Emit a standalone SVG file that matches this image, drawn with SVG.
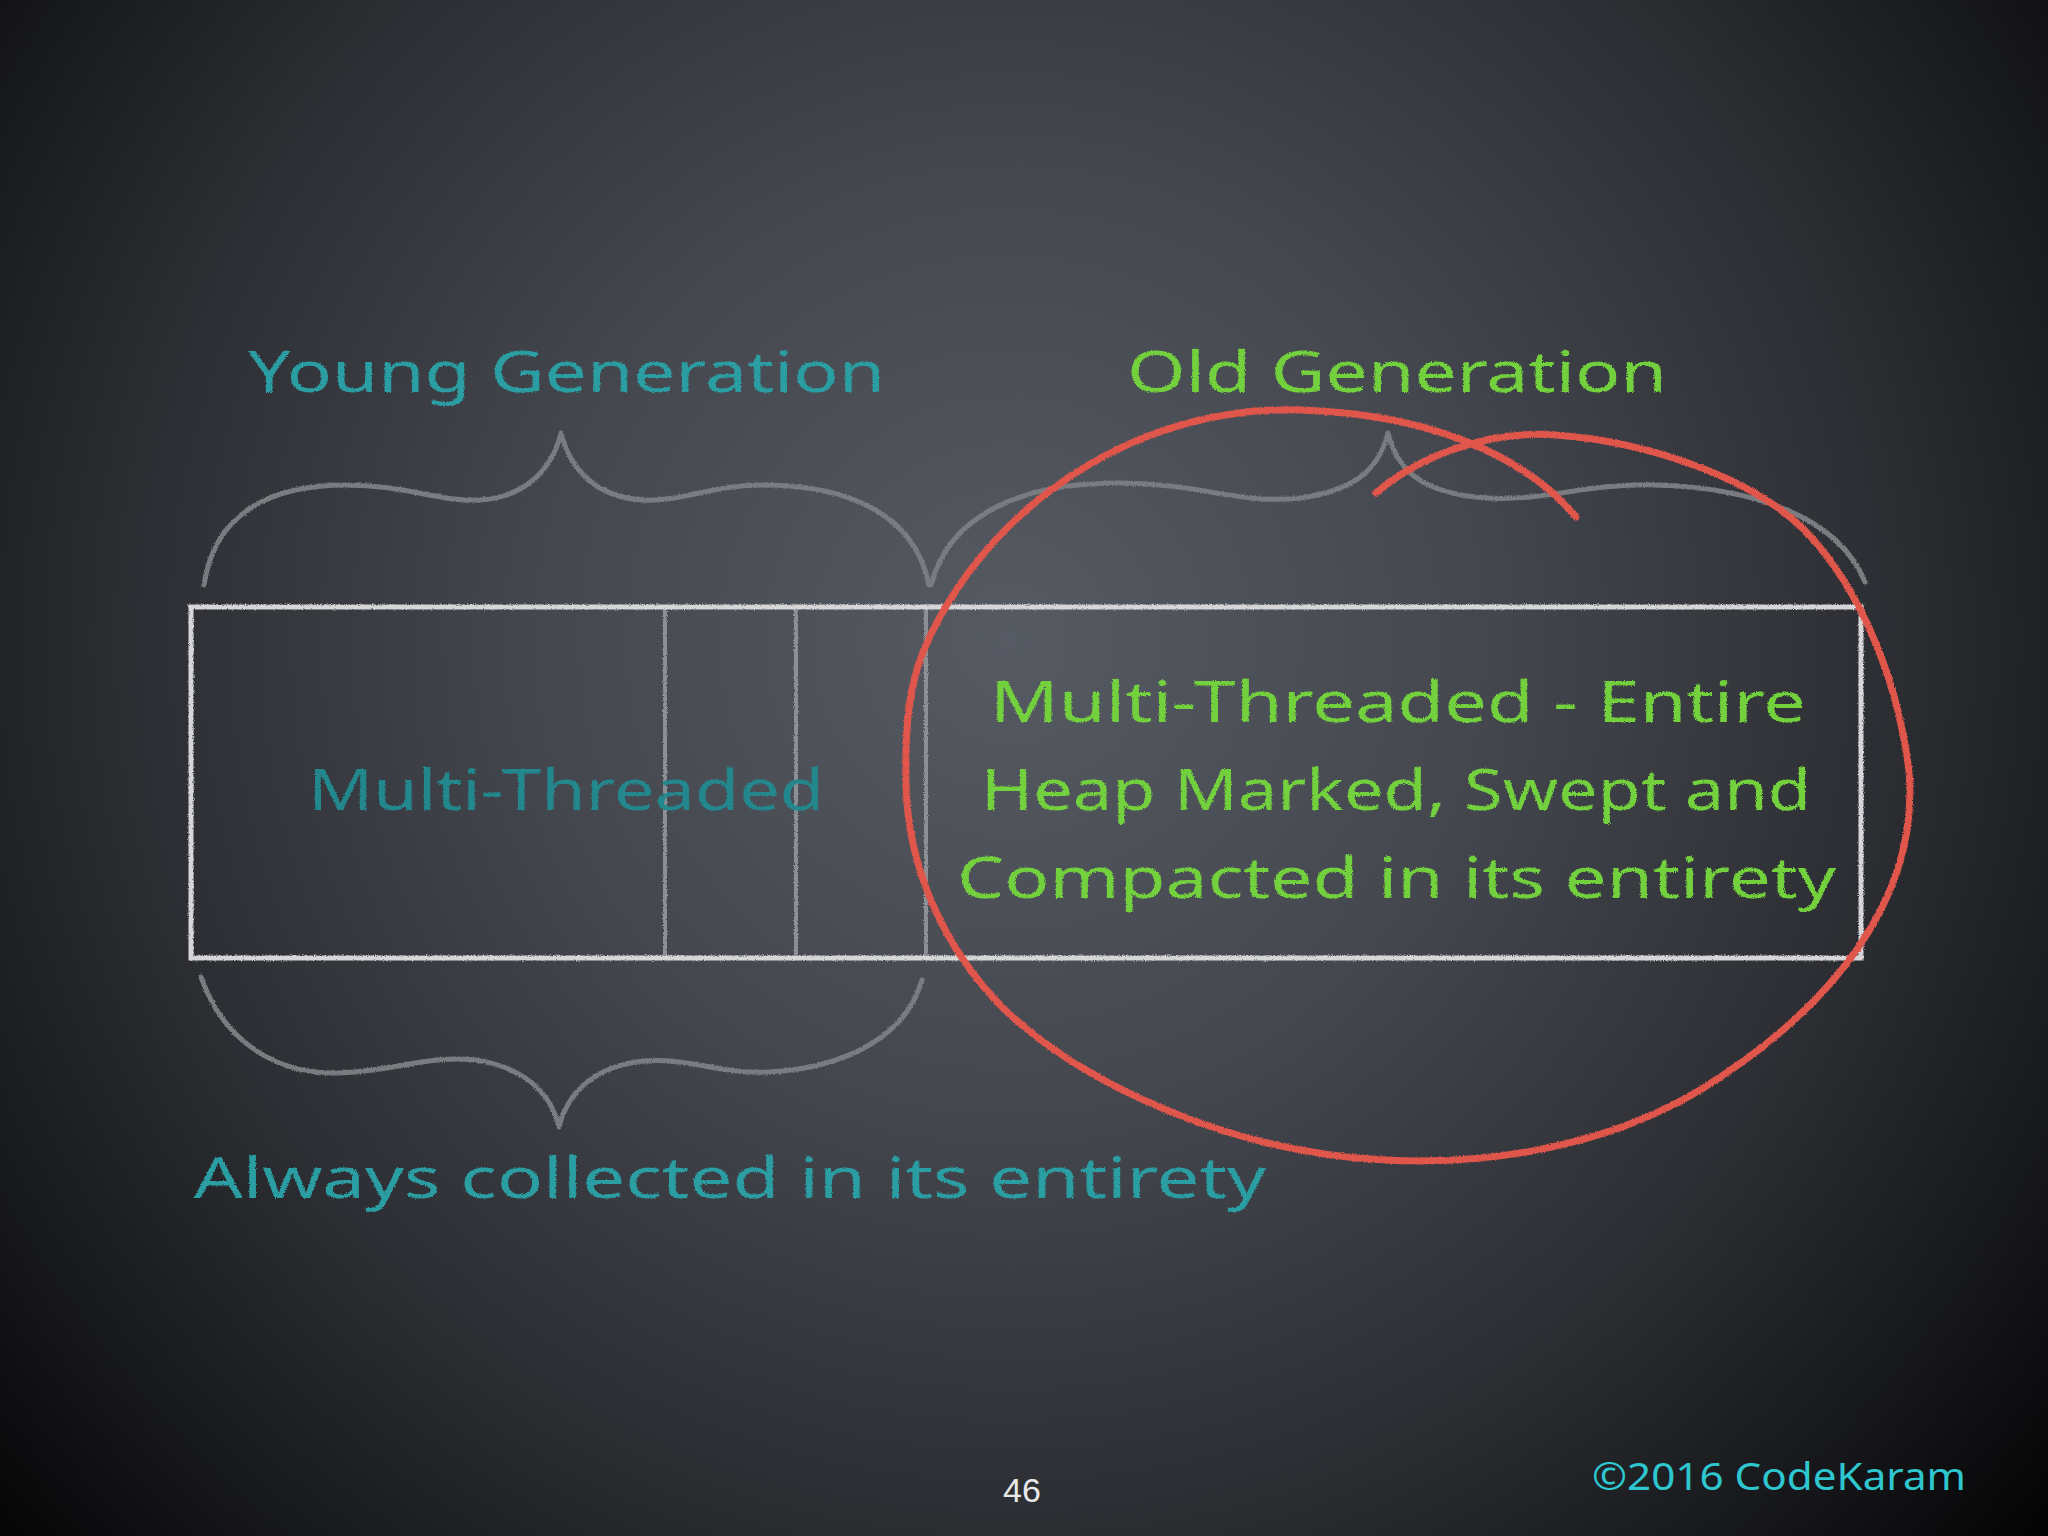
<svg xmlns="http://www.w3.org/2000/svg" width="2048" height="1536" viewBox="0 0 2048 1536">
<defs>
<radialGradient id="bg" cx="1010" cy="640" r="1350" gradientUnits="userSpaceOnUse">
<stop offset="0" stop-color="#565a62"/>
<stop offset="0.35" stop-color="#44474e"/>
<stop offset="0.65" stop-color="#2c2e33"/>
<stop offset="0.85" stop-color="#17181b"/>
<stop offset="1" stop-color="#050506"/>
</radialGradient>
<filter id="chalk" x="-5%" y="-5%" width="110%" height="110%">
<feTurbulence type="fractalNoise" baseFrequency="0.9" numOctaves="2" seed="3" result="n"/>
<feDisplacementMap in="SourceGraphic" in2="n" scale="3" xChannelSelector="R" yChannelSelector="G"/>
</filter>
<style>
.hand{font-family:"Noto Sans","DejaVu Sans",sans-serif;font-size:56px;font-weight:normal}
.teal{fill:#2a9ea2}
.teal2{fill:#21888e}
.green{fill:#72d13e}
.brace{fill:none;stroke:#7a7c81;stroke-width:5;stroke-linecap:round;stroke-linejoin:round}
.box{fill:none;stroke:#d6d6d8;stroke-width:5}
.div{fill:none;stroke:#8c8f94;stroke-width:4}
.red{fill:none;stroke:#e0564c;stroke-width:7;stroke-linecap:round}
</style>
</defs>
<rect width="2048" height="1536" fill="url(#bg)"/>

<g id="young-title" filter="url(#chalk)">
<text class="hand teal" x="248" y="392" textLength="637" lengthAdjust="spacingAndGlyphs">Young Generation</text>
</g>
<g id="old-title" filter="url(#chalk)">
<text class="hand green" x="1127" y="392" textLength="540" lengthAdjust="spacingAndGlyphs">Old Generation</text>
</g>

<g id="braces" filter="url(#chalk)">
<path class="brace" d="M204,585 C214,515 268,485 346,485 C405,485 440,502 480,500 C525,497 552,470 561,433 C570,470 597,497 642,500 C682,502 712,485 762,485 C850,485 915,515 929,585"/>
<path class="brace" d="M931,585 C950,510 1030,483 1118,483 C1200,483 1240,505 1300,498 C1360,490 1380,465 1388,433 C1396,465 1415,490 1475,497 C1540,504 1580,483 1656,485 C1760,488 1840,520 1865,582"/>
<path class="brace" d="M201,977 C225,1045 280,1075 340,1073 C400,1070 430,1055 475,1060 C520,1066 550,1090 559,1127 C568,1090 598,1066 643,1061 C690,1057 720,1075 770,1072 C840,1068 905,1040 922,980"/>
</g>

<g id="heap" filter="url(#chalk)">
<line class="div" x1="665" y1="609" x2="665" y2="955"/>
<line class="div" x1="796" y1="609" x2="796" y2="955"/>
<line class="div" x1="926" y1="609" x2="926" y2="955"/>
<rect class="box" x="191" y="607" width="1670" height="351"/>
</g>

<g id="young-label" filter="url(#chalk)">
<text class="hand teal2" x="308" y="810" textLength="516" lengthAdjust="spacingAndGlyphs">Multi-Threaded</text>
</g>

<g id="old-label" filter="url(#chalk)">
<text class="hand green" x="990" y="722" textLength="816" lengthAdjust="spacingAndGlyphs">Multi-Threaded - Entire</text>
<text class="hand green" x="981" y="810" textLength="830" lengthAdjust="spacingAndGlyphs">Heap Marked, Swept and</text>
<text class="hand green" x="957" y="898" textLength="879" lengthAdjust="spacingAndGlyphs">Compacted in its entirety</text>
</g>

<g id="connectors" filter="url(#chalk)">
<path class="red" d="M1376,493 C1420,455 1490,430 1556,435 C1650,442 1760,480 1811,537 C1850,580 1895,660 1909,771 C1920,900 1830,1010 1700,1090 C1600,1150 1480,1165 1384,1160 C1230,1152 1085,1085 1005,1010 C945,950 908,870 906,784 C904,700 915,660 940,617 C1010,490 1150,405 1301,410 C1420,414 1520,450 1576,517"/>
</g>

<g id="bottom-label" filter="url(#chalk)">
<text class="hand teal" x="194" y="1198" font-size="58" textLength="1072" lengthAdjust="spacingAndGlyphs">Always collected in its entirety</text>
</g>

<g id="footer">
<text x="1022" y="1502" text-anchor="middle" font-family="Liberation Sans, Arial, sans-serif" font-size="34" fill="#e8e8e8">46</text>
<text x="1592" y="1490" font-family="Noto Sans, DejaVu Sans, sans-serif" font-size="38" fill="#2ec6cf" textLength="374" lengthAdjust="spacingAndGlyphs">©2016 CodeKaram</text>
</g>
</svg>
